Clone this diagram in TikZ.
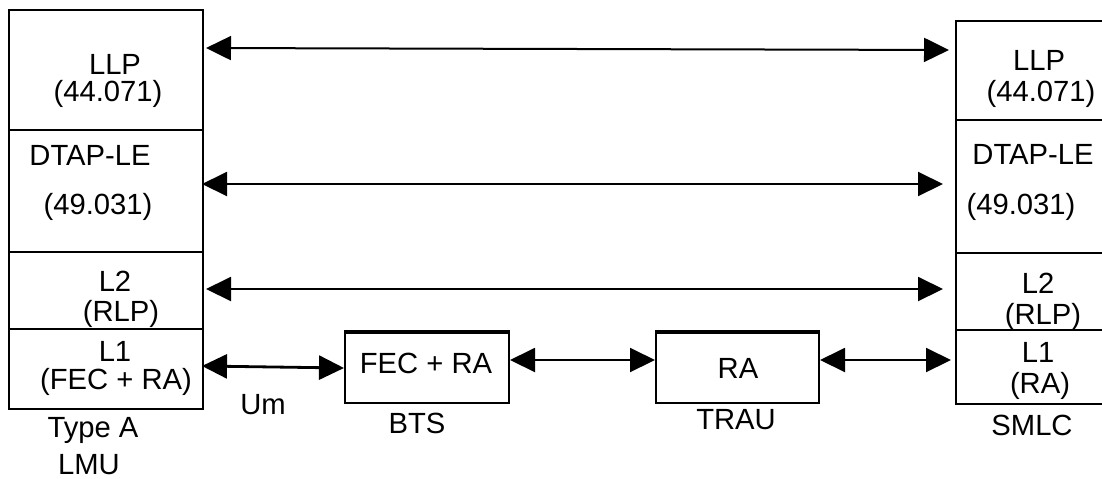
\documentclass[tikz,border=0pt]{standalone}
\usepackage{fontspec}
\setmainfont{Liberation Sans}
\usetikzlibrary{arrows.meta,positioning}
\tikzset{
	layer/.style={draw, line width=1pt, inner sep=0pt, anchor=north west},
	lbl/.style={inner sep=0pt, font=\fontsize{14.6}{17}\selectfont},
	biarrow/.style={{Triangle[length=12.5pt,width=12pt]}-{Triangle[length=12.5pt,width=12pt]}, line width=1pt}
}

\begin{document}
\begin{tikzpicture}[x=0.5pt,y=-0.5pt]
	\useasboundingbox (0,0) rectangle (1102,478);
	% LMU stack
	\node[layer, minimum width=97pt, minimum height=60pt] (lmuLLP) at (8,9) {};
	\node[layer, minimum width=97pt, minimum height=61pt] (lmuDTAP) at (8,129) {};
	\node[layer, minimum width=97pt, minimum height=38.5pt] (lmuL2) at (8,251) {};
	\node[layer, minimum width=97pt, minimum height=40pt] (lmuL1) at (8,328) {};
	\node[lbl] (lmuLLPa) at (115,64) {LLP};
	\node[lbl] (lmuLLPb) at (108,94) {(44.071)};
	\node[lbl] (lmuDTAPa) at (90,155) {DTAP-LE};
	\node[lbl] (lmuDTAPb) at (98,207) {(49.031)};
	\node[lbl] (lmuL2a) at (115,281) {L2};
	\node[lbl] (lmuL2b) at (121,314) {(RLP)};
	\node[lbl] (lmuL1a) at (115,351) {L1};
	\node[lbl] (lmuL1b) at (116,382) {(FEC + RA)};
	\node[lbl] (lmuname) at (93,430) {Type A};
	\node[lbl] (lmuname2) at (89,465) {LMU};
	% SMLC stack, cut at the right edge
	\node[layer, minimum width=80pt, minimum height=49.5pt] (smlcLLP) at (955,20) {};
	\node[layer, minimum width=80pt, minimum height=66.5pt] (smlcDTAP) at (955,119) {};
	\node[layer, minimum width=80pt, minimum height=38.5pt] (smlcL2) at (955,252) {};
	\node[layer, minimum width=80pt, minimum height=37pt] (smlcL1) at (955,329) {};
	\node[lbl] (smlcLLPa) at (1039,60) {LLP};
	\node[lbl] (smlcLLPb) at (1041,94) {(44.071)};
	\node[lbl] (smlcDTAPa) at (1033,154) {DTAP-LE};
	\node[lbl] (smlcDTAPb) at (1021,207) {(49.031)};
	\node[lbl] (smlcL2a) at (1038,283) {L2};
	\node[lbl] (smlcL2b) at (1043,317) {(RLP)};
	\node[lbl] (smlcL1a) at (1038,352) {L1};
	\node[lbl] (smlcL1b) at (1040,386) {(RA)};
	\node[lbl] (smlcname) at (1032,425) {SMLC};
	% BTS and TRAU
	\node[layer, minimum width=82pt, minimum height=35pt] (bts) at (344,332) {};
	\node[layer, minimum width=81.5pt, minimum height=35pt] (trau) at (655,332) {};
	\draw[line width=1.6pt] (bts.north west) -- (bts.north east);
	\draw[line width=1.6pt] (trau.north west) -- (trau.north east);
	\node[lbl] (btsin) at (426,363) {FEC + RA};
	\node[lbl] (trauin) at (738,368) {RA};
	\node[lbl] (btsname) at (417,423) {BTS};
	\node[lbl] (trauname) at (736,420) {TRAU};
	\node[lbl] (um) at (263,405) {Um};
	% peer links
	\draw[biarrow, shorten <=1pt, shorten >=3pt] (lmuLLP.east |- 0,48) -- (smlcLLP.west |- 0,50);
	\draw[biarrow, shorten <=-1pt, shorten >=6pt] (lmuDTAP.east |- 0,184) -- (smlcDTAP.west |- 0,184);
	\draw[biarrow, shorten <=1pt, shorten >=6pt] (lmuL2.east |- 0,289) -- (smlcL2.west |- 0,289);
	\draw[biarrow, line width=1.4pt, shorten <=-1pt] (lmuL1.east |- 0,366) -- (bts.west |- 0,368);
	\draw[biarrow] (bts.east |- 0,360) -- (trau.west |- 0,360);
	\draw[biarrow, shorten >=2pt] (trau.east |- 0,360) -- (smlcL1.west |- 0,360);
\end{tikzpicture}
\end{document}
